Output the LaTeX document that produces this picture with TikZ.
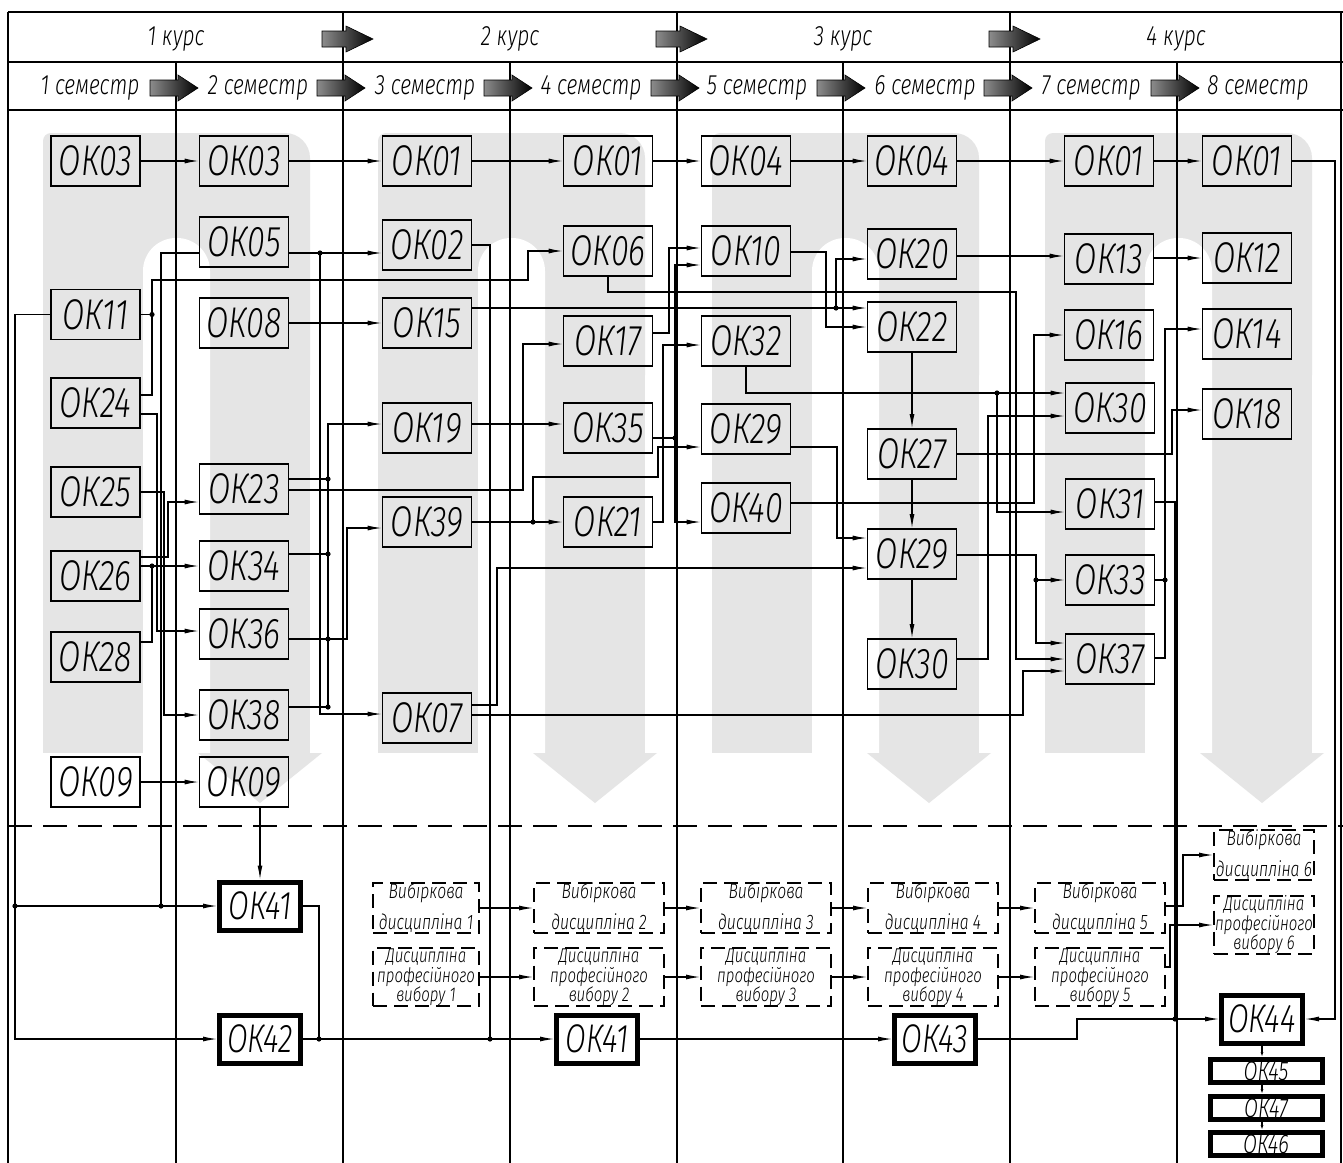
\documentclass[tikz,border=0pt]{standalone}
\usepackage{fontspec}
\newfontfamily\gost{Fira Sans Light Italic}[FakeStretch=0.75]
\usetikzlibrary{arrows.meta}
\definecolor{band}{gray}{0.9}
\tikzset{
  ok/.style={draw, line width=1.8pt, minimum width=89pt, minimum height=50pt, inner sep=0pt, font=\gost\fontsize{43}{43}\selectfont},
  okfin/.style={ok, line width=5pt, minimum width=81pt, minimum height=48pt, font=\gost\fontsize{40}{40}\selectfont},
  okbar/.style={okfin, minimum width=112pt, minimum height=23pt, font=\gost\fontsize{27}{27}\selectfont},
  opt/.style={draw, dash pattern=on 14pt off 7pt, line width=2pt, minimum width=130pt, minimum height=48pt, inner sep=0pt, align=center},
  vyb/.style={opt, font=\gost\fontsize{21}{31}\selectfont},
  prof/.style={opt, font=\gost\fontsize{20}{15}\selectfont},
  link/.style={line width=1.1pt},
  arr/.style={link, -{Latex[length=14pt,width=5pt]}},
  tiny/.style={link, -{Latex[length=5pt,width=3pt]}},
  grid/.style={line width=2.2pt},
  hdr/.style={font=\gost\fontsize{28}{28}\selectfont},
  harrow/.style={left color=black!45, right color=black, draw=black, line width=0.6pt}
}
\begin{document}
\begin{tikzpicture}[x=1pt, y=-1pt]
  \clip (0,0) rectangle (1343,1162);
  \fill[white] (0,0) rectangle (1343,1162);
  % grey bands, one per year
  \foreach \Y in {8,343,677,1010}{
    \fill[band, rounded corners=8pt] (\Y+35,133) rectangle (\Y+180,400);
    \fill[band, rounded corners=25pt] (\Y+150,133) rectangle (\Y+302,400);
    \fill[band] (\Y+35,300) rectangle (\Y+135,753);
    \fill[band] (\Y+202,300) rectangle (\Y+302,753);
    \fill[white, rounded corners=33pt] (\Y+135,238) rectangle (\Y+202,850);
    \fill[band] (\Y+190,753) -- (\Y+314,753) -- (\Y+252,803) -- cycle;
  }
  % frame
  \draw[grid] (8,12) -- (1343,12);
  \draw[grid] (8,62) -- (1343,62);
  \draw[grid] (8,110) -- (1343,110);
  \foreach \X in {8,343,677,1010,1341} \draw[grid] (\X,12) -- (\X,1170);
  \foreach \X in {176,510,843,1177} \draw[grid] (\X,62) -- (\X,1170);
  \draw[grid, dash pattern=on 24pt off 11pt] (8,826) -- (1343,826);
  % header
  \foreach \n/\X in {1/176,2/510,3/843,4/1176} \node[hdr] at (\X,39) {\n\ курс};
  \foreach \n/\X in {1/90,2/258,3/425,4/591,5/757,6/925,7/1091,8/1258} \node[hdr] at (\X,88) {\n\ семестр};
  \foreach \X in {343,677,1010}
    \shade[harrow] (\X-21,31) -- (\X+3,31) -- (\X+3,26) -- (\X+30,39) -- (\X+3,52) -- (\X+3,47) -- (\X-21,47) -- cycle;
  \foreach \X in {176,343,510,677,843,1010,1177}
    \shade[harrow] (\X-26,80) -- (\X+2,80) -- (\X+2,75) -- (\X+22,88) -- (\X+2,101) -- (\X+2,96) -- (\X-26,96) -- cycle;
  % semester 1
  \node[ok] (s1-03) at (95.5,161) {ОК03};
  \node[ok] (s1-11) at (95.5,314.5) {ОК11};
  \node[ok] (s1-24) at (95.5,403) {ОК24};
  \node[ok] (s1-25) at (95.5,492) {ОК25};
  \node[ok] (s1-26) at (95.5,576) {ОК26};
  \node[ok] (s1-28) at (95.5,657) {ОК28};
  \node[ok] (s1-09) at (95.5,782) {ОК09};
  % semester 2
  \node[ok] (s2-03) at (244,161) {ОК03};
  \node[ok] (s2-05) at (244,242) {ОК05};
  \node[ok] (s2-08) at (244,323) {ОК08};
  \node[ok] (s2-23) at (244,489) {ОК23};
  \node[ok] (s2-34) at (244,566) {ОК34};
  \node[ok] (s2-36) at (244,634) {ОК36};
  \node[ok] (s2-38) at (244,715) {ОК38};
  \node[ok] (s2-09) at (244,782) {ОК09};
  % semester 3
  \node[ok] (s3-01) at (427,161) {ОК01};
  \node[ok] (s3-02) at (427,245) {ОК02};
  \node[ok] (s3-15) at (427,323) {ОК15};
  \node[ok] (s3-19) at (427,428) {ОК19};
  \node[ok] (s3-39) at (427,522) {ОК39};
  \node[ok] (s3-07) at (427,718) {ОК07};
  % semester 4
  \node[ok] (s4-01) at (608,161) {ОК01};
  \node[ok] (s4-06) at (608,251) {ОК06};
  \node[ok] (s4-17) at (608,341) {ОК17};
  \node[ok] (s4-35) at (608,428) {ОК35};
  \node[ok] (s4-21) at (608,522) {ОК21};
  % semester 5
  \node[ok] (s5-04) at (746,161) {ОК04};
  \node[ok] (s5-10) at (746,251) {ОК10};
  \node[ok] (s5-32) at (746,341) {ОК32};
  \node[ok] (s5-29) at (746,429) {ОК29};
  \node[ok] (s5-40) at (746,508) {ОК40};
  % semester 6
  \node[ok] (s6-04) at (912,161) {ОК04};
  \node[ok] (s6-20) at (912,254) {ОК20};
  \node[ok] (s6-22) at (912,327) {ОК22};
  \node[ok] (s6-27) at (912,454) {ОК27};
  \node[ok] (s6-29) at (912,554) {ОК29};
  \node[ok] (s6-30) at (912,664) {ОК30};
  % semester 7
  \node[ok] (s7-01) at (1109,161) {ОК01};
  \node[ok] (s7-13) at (1109,259) {ОК13};
  \node[ok] (s7-16) at (1109,335) {ОК16};
  \node[ok] (s7-30) at (1110,408) {ОК30};
  \node[ok] (s7-31) at (1110,504) {ОК31};
  \node[ok] (s7-33) at (1110,580) {ОК33};
  \node[ok] (s7-37) at (1110,659) {ОК37};
  % semester 8
  \node[ok] (s8-01) at (1247,161) {ОК01};
  \node[ok] (s8-12) at (1247,258) {ОК12};
  \node[ok] (s8-14) at (1247,334) {ОК14};
  \node[ok] (s8-18) at (1247,414) {ОК18};
  % below the dashed line
  \node[okfin] (b-41a) at (260,906) {ОК41};
  \node[okfin] (b-42) at (260,1039) {ОК42};
  \node[okfin] (b-41b) at (597,1039) {ОК41};
  \node[okfin] (b-43) at (935,1039) {ОК43};
  \node[okfin] (b-44) at (1262,1019) {ОК44};
  \node[okbar] (b-45) at (1266,1071) {ОК45};
  \node[okbar] (b-47) at (1266,1108) {ОК47};
  \node[okbar] (b-46) at (1266,1144) {ОК46};
  \node[vyb, minimum width=106pt] (v1) at (426,908) {Вибіркова\\дисципліна 1};
  \node[vyb] (v2) at (599,908) {Вибіркова\\дисципліна 2};
  \node[vyb] (v3) at (766,908) {Вибіркова\\дисципліна 3};
  \node[vyb] (v4) at (933,908) {Вибіркова\\дисципліна 4};
  \node[vyb] (v5) at (1100,908) {Вибіркова\\дисципліна 5};
  \node[vyb, minimum width=100pt] (v6) at (1264,855) {Вибіркова\\дисципліна 6};
  \node[prof, minimum width=106pt] (p1) at (426,977) {Дисципліна\\професійного\\вибору 1};
  \node[prof] (p2) at (599,977) {Дисципліна\\професійного\\вибору 2};
  \node[prof] (p3) at (766,977) {Дисципліна\\професійного\\вибору 3};
  \node[prof] (p4) at (933,977) {Дисципліна\\професійного\\вибору 4};
  \node[prof] (p5) at (1100,977) {Дисципліна\\професійного\\вибору 5};
  \node[prof, minimum width=100pt] (p6) at (1264,925) {Дисципліна\\професійного\\вибору 6};
  % junctions
  \coordinate (j1) at (15,906);
  \coordinate (j2) at (320,253);
  \coordinate (j3) at (152,314.5);
  \coordinate (j4) at (152,566);
  \coordinate (j5) at (836,308);
  \coordinate (j6) at (533,522);
  \coordinate (j7) at (675,438);
  \coordinate (j8) at (997,393);
  \coordinate (j9) at (1036,580);
  \coordinate (j10) at (328,639);
  \foreach \p in {j1,j2,j3,j4,j5,j6,j7,j8,j9,j10}
    \fill (\p) circle (2.6pt);
  \foreach \p in {{161,906},{328,479},{328,554},{328,707},{319,1039},{490,1039},{1175,1019},{1165,580}}
    \fill (\p) circle (2.6pt);
  % top row
  \draw[arr] (s1-03) -- (s2-03);
  \draw[arr] (s2-03) -- (s3-01);
  \draw[arr] (s3-01) -- (s4-01);
  \draw[arr] (s4-01) -- (s5-04);
  \draw[arr] (s5-04) -- (s6-04);
  \draw[arr] (s6-04) -- (s7-01);
  \draw[arr] (s7-01) -- (s8-01);
  \draw[arr] (s8-01.east) -- (1335,161) |- (b-44.east);
  % semesters 1-2
  \draw[arr] (s1-11.west) -| (15,1039) -- (b-42.west);
  \draw[arr] (j1) -- (b-41a.west);
  \draw[link] (s2-05.west |- 0,253) -| (161,906);
  \draw[arr] (s2-05.east |- 0,253) -- (s3-02.west |- 0,253);
  \draw[arr] (j2) |- (s3-07.west |- 0,714);
  \draw[link] (s1-11.east) -- (j3);
  \draw[link] (s1-24.east |- 0,395) -| (j3);
  \draw[arr] (j3) |- (528,280) |- (s4-06.west);
  \draw[arr] (s1-24.east |- 0,414) -| (157,631) -- (s2-36.west |- 0,631);
  \draw[arr] (s1-25.east) -| (164,715) -- (s2-38.west);
  \draw[arr] (s1-26.east |- 0,557) -| (168,502) -- (s2-23.west |- 0,502);
  \draw[arr] (s1-26.east |- 0,566) -- (s2-34.west);
  \draw[link] (s1-28.east |- 0,642) -| (j4);
  \draw[arr] (s1-09) -- (s2-09);
  \draw[arr] (s2-09.south -| b-41a) -- (b-41a);
  \draw[arr] (s2-08) -- (s3-15);
  % semesters 2-4
  \draw[arr] (s2-38.east |- 0,707) -| (328,424) -- (s3-19.west |- 0,424);
  \draw[link] (s2-23.east |- 0,479) -- (328,479);
  \draw[link] (s2-34.east |- 0,554) -- (328,554);
  \draw[link] (s2-36.east |- 0,639) -- (j10);
  \draw[arr] (j10) -| (347,528) -- (s3-39.west |- 0,528);
  \draw[arr] (s2-23.east |- 0,490) -| (523,344) -- (s4-17.west |- 0,344);
  \draw[link] (s3-02.east) -| (490,1039);
  \draw[link] (b-41a.east) -| (319,1039);
  \draw[arr] (b-42) -- (b-41b);
  \draw[arr] (b-41b) -- (b-43);
  \draw[arr] (b-43.east) -| (1077,1019) -- (b-44.west);
  \draw[link] (s7-31.east |- 0,502) -| (1175,1019);
  \draw[arr] (s3-15.east |- 0,308) -- (s6-22.west |- 0,308);
  \draw[arr] (j5) |- (s6-20.west |- 0,259);
  \draw[arr] (s3-19.east |- 0,424) -- (s4-35.west |- 0,424);
  \draw[arr] (s3-39) -- (s4-21);
  \draw[arr] (j6) |- (658,477) |- (s5-29.west |- 0,447);
  \draw[arr] (s3-07.east |- 0,705) -| (497,568) -- (s6-29.west |- 0,568);
  \draw[arr] (s3-07.east |- 0,715) -| (1023,671) -- (s7-37.west |- 0,671);
  % semesters 4-8
  \draw[arr] (s4-06.south) |- (1016,292) |- (s7-37.west);
  \draw[arr] (s4-17.east |- 0,333) -| (669,248) -- (s5-10.west |- 0,248);
  \draw[link] (s4-35.east |- 0,438) -- (j7);
  \draw[arr] (j7) |- (s5-10.west |- 0,265);
  \draw[arr] (j7) |- (s5-40.west |- 0,522);
  \draw[arr] (s4-21.east) -| (663,345) -- (s5-32.west |- 0,345);
  \draw[arr] (s5-10.east |- 0,252) -| (826,327) -- (s6-22.west);
  \draw[arr] (s5-32.south) |- (s7-30.west |- 0,393);
  \draw[arr] (j8) |- (s7-31.west |- 0,512);
  \draw[arr] (s5-29.east |- 0,447) -| (837,538) -- (s6-29.west |- 0,538);
  \draw[arr] (s5-40.east |- 0,503) -| (1034,335) -- (s7-16.west);
  \draw[arr] (s6-20.east |- 0,256) -- (s7-13.west |- 0,256);
  \draw[arr] (s6-22) -- (s6-27);
  \draw[arr] (s6-27) -- (s6-29);
  \draw[arr] (s6-29) -- (s6-30);
  \draw[arr] (s6-27.east) -| (1172,410) -- (s8-18.west |- 0,410);
  \draw[arr] (s6-29.east |- 0,555) -| (1036,643) -- (s7-37.west |- 0,643);
  \draw[arr] (j9) -- (s7-33.west);
  \draw[arr] (s6-30.east |- 0,659) -| (988,416) -- (s7-30.west |- 0,416);
  \draw[arr] (s7-13.east |- 0,258) -- (s8-12.west |- 0,258);
  \draw[arr] (s7-37.east |- 0,658) -| (1165,329) -- (s8-14.west |- 0,329);
  \draw[link] (s7-33.east) -- (1165,580);
  % electives
  \foreach \a/\b in {v1/v2,v2/v3,v3/v4,v4/v5,p1/p2,p2/p3,p3/p4,p4/p5}
    \draw[arr] (\a) -- (\b);
  \draw[arr] (v5.east |- 0,906) -| (1183,855) -- (v6.west);
  \draw[arr] (p5.east |- 0,967) -| (1170,925) -- (p6.west);
  \draw[tiny] (b-44.south) -- (b-45.north -| b-44.south);
  \draw[tiny] (b-45.south -| b-44.south) -- (b-47.north -| b-44.south);
  \draw[tiny] (b-47.south -| b-44.south) -- (b-46.north -| b-44.south);
\end{tikzpicture}
\end{document}
